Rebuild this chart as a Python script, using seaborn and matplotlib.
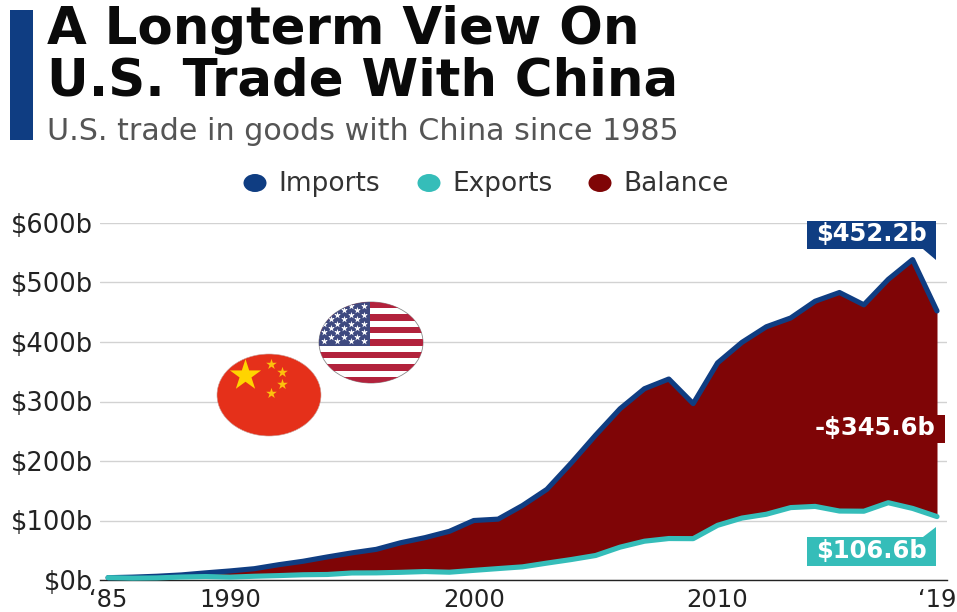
import matplotlib
matplotlib.use("Agg")
import matplotlib.pyplot as plt
from matplotlib.patches import Ellipse, Polygon, Rectangle
import pandas as pd
import seaborn as sns

years = list(range(1985, 2020))
imports = [3.9, 4.8, 6.3, 8.5, 12.0, 15.2, 19.0, 25.7, 31.5, 38.8, 45.6, 51.5,
           62.6, 71.2, 81.8, 100.0, 102.3, 125.2, 152.4, 196.7, 243.5, 287.8,
           321.5, 337.8, 296.4, 364.9, 399.4, 425.6, 440.4, 468.5, 483.2,
           462.5, 505.2, 538.5, 452.2]
exports = [3.9, 3.1, 3.5, 5.0, 5.8, 4.8, 6.3, 7.4, 8.8, 9.3, 11.8, 12.0, 12.9,
           14.2, 13.1, 16.2, 19.2, 22.1, 28.4, 34.4, 41.2, 55.2, 65.2, 69.7,
           69.5, 91.9, 104.1, 110.5, 121.7, 123.7, 115.9, 115.6, 129.9, 120.3,
           106.6]
y_ticks = [0, 100, 200, 300, 400, 500, 600]
y_labels = ["$0b", "$100b", "$200b", "$300b", "$400b", "$500b", "$600b"]
x_ticks = [1985, 1990, 2000, 2010, 2019]
x_labels = ["\u201885", "1990", "2000", "2010", "\u201819"]
legend_names = ["Imports", "Exports", "Balance"]

BLUE, TEAL, MAROON = "#0f3d82", "#35bdb9", "#7f0506"
INK, GREY = "#222222", "#555555"
W, H = 957, 612

sns.set_theme(style="white")
plt.rcParams["font.family"] = ["DejaVu Sans"]

fig = plt.figure(figsize=(W / 100, H / 100), dpi=100, facecolor="white")
ax = fig.add_axes([100 / W, 1 - 580 / H, 847 / W, 357 / H])

frame = pd.DataFrame({"year": years, "Imports": imports, "Exports": exports})

ax.fill_between(frame["year"], frame["Exports"], frame["Imports"],
                color=MAROON, lw=0, zorder=2)
for name, colour in (("Imports", BLUE), ("Exports", TEAL)):
    line = sns.lineplot(data=frame, x="year", y=name, color=colour, lw=3.7,
                        ax=ax, legend=False, zorder=3)
    line.lines[-1].set_solid_capstyle("round")
    line.lines[-1].set_clip_on(False)

ax.set_xlim(1984.67, 2019.41)
ax.set_ylim(0, 600)
ax.set_xlabel("")
ax.set_ylabel("")
ax.set_yticks(y_ticks, y_labels, fontsize=18.5, color=INK)
ax.set_xticks(x_ticks, x_labels, fontsize=17.5, color=INK)
ax.tick_params(axis="y", length=0, pad=5)
ax.tick_params(axis="x", length=0, pad=6)
ax.grid(axis="y", color="#d2d2d2", lw=1.0, zorder=1)
ax.set_axisbelow(True)
for side in ("top", "right", "left"):
    ax.spines[side].set_visible(False)
ax.spines["bottom"].set_color("#222222")
ax.spines["bottom"].set_linewidth(1.0)

# Overlay in pixel units for the header, legend, call-outs and flags
px = fig.add_axes([0, 0, 1, 1], facecolor="none", zorder=5)
px.set_xlim(0, W)
px.set_ylim(H, 0)
px.axis("off")

px.add_patch(Rectangle((10, 10), 23, 130, color=BLUE, lw=0))
px.text(47, 44, "A Longterm View On", fontsize=37, fontweight="bold",
        color="#0a0a0a", va="baseline")
px.text(47, 95, "U.S. Trade With China", fontsize=37, fontweight="bold",
        color="#0a0a0a", va="baseline")
px.text(47, 140, "U.S. trade in goods with China since 1985", fontsize=21.7,
        color=GREY, va="baseline")

# Legend entries
for name, colour, dot_x, text_x in zip(legend_names, (BLUE, TEAL, MAROON),
                                       (255, 429, 600), (278, 452, 623)):
    px.add_patch(Ellipse((dot_x, 183), 23, 18, color=colour, lw=0))
    px.text(text_x, 191, name, fontsize=19, color="#333333", va="baseline")

# Call-outs
px.add_patch(Polygon([(807, 221), (936, 221), (936, 260), (923, 249), (807, 249)],
                     color=BLUE, lw=0))
px.text(871.5, 234, f"${imports[-1]:.1f}b", color="white", fontsize=17.5,
        fontweight="bold", ha="center", va="center")
px.add_patch(Rectangle((807, 415), 138, 28, color=MAROON, lw=0))
px.text(875, 428, f"-${imports[-1] - exports[-1]:.1f}b", color="white",
        fontsize=17.5, fontweight="bold", ha="center", va="center")
px.add_patch(Polygon([(807, 537), (923, 537), (936, 527), (936, 566), (807, 566)],
                     color=TEAL, lw=0))
px.text(871.5, 551, f"${exports[-1]:.1f}b", color="white", fontsize=17.5,
        fontweight="bold", ha="center", va="center")

# Chinese flag
china = Ellipse((269, 395), 104, 82, facecolor="#e5301a", edgecolor="#c9a09a", lw=0.4)
px.add_patch(china)
px.scatter([245], [375], marker="*", s=560, color="#ffd400", lw=0, zorder=4)
px.scatter([271, 282, 282, 271], [364, 372, 384, 393], marker="*", s=65,
           color="#fcc10d", lw=0, zorder=4)

# American flag, stripes and canton clipped to its ellipse
usa = Ellipse((371, 342.5), 104, 81, facecolor="white", edgecolor="#8a8a8a",
              lw=0.6, zorder=2)
px.add_patch(usa)
for row in range(0, 13, 2):
    stripe = Rectangle((315, 302 + row * 81 / 13), 110, 81 / 13, color="#b2223c",
                       lw=0, zorder=3)
    px.add_patch(stripe)
    stripe.set_clip_path(usa)
canton = Rectangle((315, 302), 55, 43.5, color="#3f4a80", lw=0, zorder=3)
px.add_patch(canton)
canton.set_clip_path(usa)
for row in range(9):
    count = 4 if row % 2 == 0 else 3
    first = 324 if row % 2 == 0 else 330.5
    sx = [first + col * 13.3 for col in range(count)]
    sy = [305.7 + row * 4.45] * count
    stars = px.scatter(sx, sy, marker="*", s=26, color="white", lw=0, zorder=4)
    stars.set_clip_path(usa)

fig.savefig("out.png", dpi=100, facecolor="white")
